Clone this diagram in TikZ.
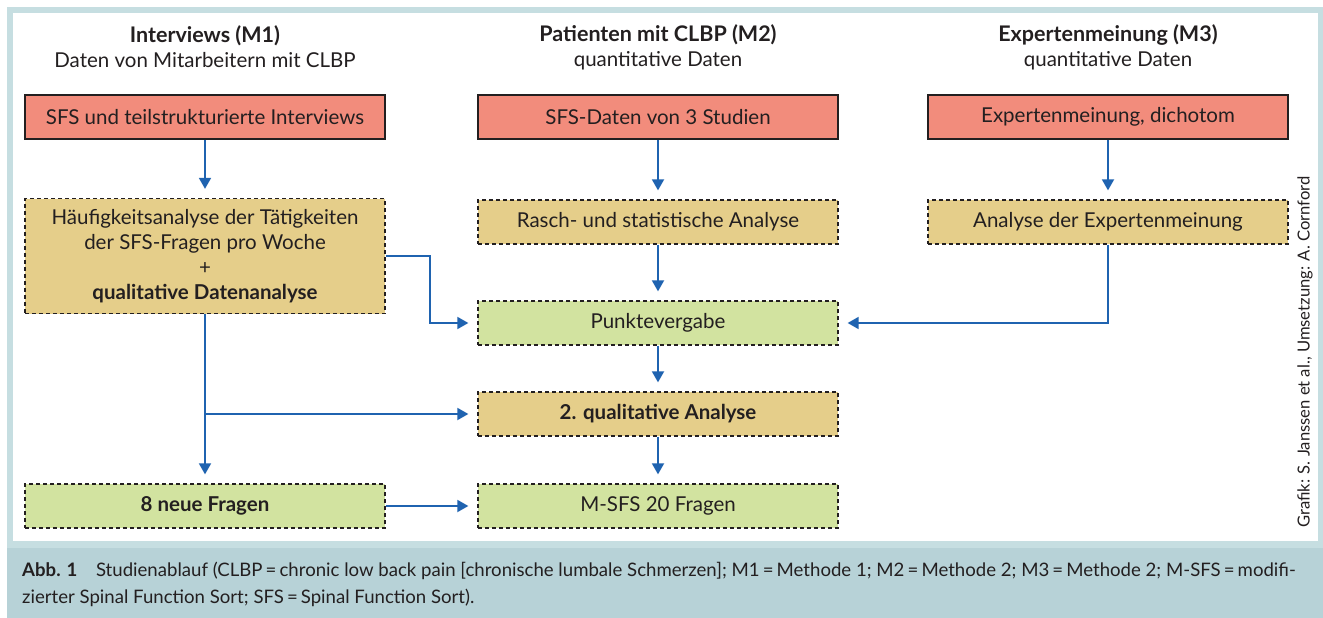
\documentclass[tikz,border=0pt]{standalone}
\usepackage{fontspec}
\setmainfont{Lato}
\usetikzlibrary{shapes,arrows.meta}
\definecolor{frame}{HTML}{C6DEE1}
\definecolor{capband}{HTML}{B7D2D7}
\definecolor{redbox}{HTML}{F28C7C}
\definecolor{tanbox}{HTML}{E5CE8A}
\definecolor{greenbox}{HTML}{D2E3A0}
\definecolor{flowblue}{HTML}{1F63B0}
\definecolor{ink}{HTML}{231F20}
\tikzset{
	source/.style   = {draw=ink, line width=1.5pt, fill=redbox, text=ink,
		minimum width=360pt, minimum height=44pt, inner sep=0pt},
	analysis/.style = {draw=ink, line width=1.3pt, dash pattern=on 4pt off 3pt,
		fill=tanbox, text=ink, minimum width=360pt, minimum height=44pt, inner sep=0pt},
	result/.style   = {analysis, fill=greenbox},
	head/.style     = {align=center, text=ink}, % column titles
	flow/.style     = {-{Triangle[length=11pt,width=12pt]}, flowblue,
		line width=1.8pt, shorten >=9pt} % blue arrows
}
\newcommand{\colhead}[2]{{\fontsize{21.5}{25}\selectfont\bfseries #1}\\#2}

\begin{document}
\begin{tikzpicture}[x=1pt, y=-1pt, font=\fontsize{20.5}{25}\selectfont]
\useasboundingbox (0,0) rectangle (1323,618);
% frame and caption band
\fill[frame] (7,7) rectangle (1323,618);
\fill[white] (13,13) rectangle (1318,541);
\fill[capband] (7,548) rectangle (1323,618);

\draw
% column titles
node at (205,47)[head] (h1) {\colhead{Interviews (M1)}{Daten von Mitarbeitern mit CLBP}}
node at (658,47)[head] (h2) {\colhead{Patienten mit CLBP (M2)}{quantitative Daten}}
node at (1108,47)[head] (h3) {\colhead{Expertenmeinung (M3)}{quantitative Daten}}
% data sources
node at (205,117)[source] (A1) {SFS und teilstrukturierte Interviews}
node at (658,117)[source] (A2) {SFS-Daten von 3 Studien}
node at (1108,117)[source] (A3) {Expertenmeinung, dichotom}
% analyses
node at (205,256)[analysis, minimum height=115pt, align=center] (B1)
	{Häufigkeitsanalyse der Tätigkeiten\\der SFS-Fragen pro Woche\\+\\\textbf{qualitative Datenanalyse}}
node at (658,222)[analysis] (B2) {Rasch- und statistische Analyse}
node at (1108,222)[analysis] (B3) {Analyse der Expertenmeinung}
% merging
node at (658,323)[result] (C) {Punktevergabe}
node at (658,414)[analysis] (D) {\textbf{2. qualitative Analyse}}
node at (205,506)[result] (E1) {\textbf{8 neue Fragen}}
node at (658,506)[result] (E2) {M-SFS 20 Fragen};

\coordinate (k1) at (430,256);
\coordinate (j1) at (205,414);

\draw[flow] (A1) -- (B1);
\draw[flow] (A2) -- (B2);
\draw[flow] (A3) -- (B3);
\draw[flow] (B2) -- (C);
\draw[flow] (B1.east) -- (k1) |- (C.west);
\draw[flow] (B3.south) |- (C.east);
\draw[flow] (C) -- (D);
\draw[flow] (D) -- (E2);
\draw[flow] (B1) -- (E1);
\draw[flow] (j1) -- (D.west);
\draw[flow] (E1) -- (E2);

% credit and caption
\node at (1305,352)[rotate=90, text=ink, font=\fontsize{16.6}{20}\selectfont] (credit)
	{Grafik: S. Janssen et al., Umsetzung: A. Cornford};
\node at (22,571)[anchor=west, inner sep=0pt, text=ink, font=\fontsize{18.6}{22}\selectfont] (cap1)
	{\textbf{Abb. 1}\quad Studienablauf (CLBP\,=\,chronic low back pain [chronische lumbale Schmerzen]; M1\,=\,Methode 1; M2\,=\,Methode 2; M3\,=\,Methode 2; M-SFS\,=\,modifi-};
\node at (22,598)[anchor=west, inner sep=0pt, text=ink, font=\fontsize{18.6}{22}\selectfont] (cap2)
	{zierter Spinal Function Sort; SFS\,=\,Spinal Function Sort).};
\end{tikzpicture}
\end{document}
